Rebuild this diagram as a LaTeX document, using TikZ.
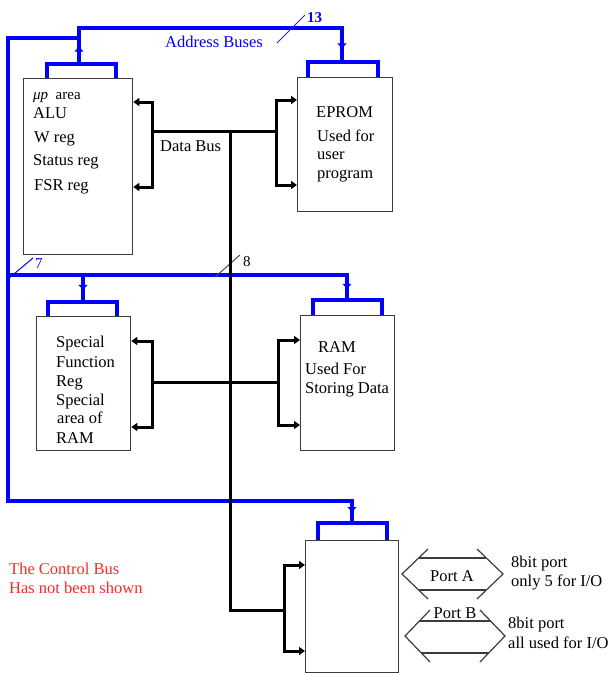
\documentclass[tikz,border=0pt]{standalone}
\usepackage{fontspec}
\setmainfont{Liberation Serif}
\usetikzlibrary{arrows.meta,decorations.markings,calc}
\definecolor{busblue}{RGB}{0,0,255}
\definecolor{redtxt}{RGB}{255,40,40}
\definecolor{boxgray}{RGB}{60,60,60}
\begin{document}
\begin{tikzpicture}[x=1pt,y=-1pt,
  box/.style={draw=boxgray,line width=1.3pt,anchor=north west,inner sep=0pt},
  addr/.style={draw=busblue,line width=3.2pt,line cap=rect,line join=miter},
  dbus/.style={draw=black,line width=3pt,line join=miter,arrows={Triangle[length=6pt,width=8pt]-Triangle[length=6pt,width=8pt]}},
  dwire/.style={draw=black,line width=3pt,line join=miter},
  midarrow/.style={postaction={decorate},decoration={markings,mark=at position #1 with {\arrow[busblue]{Triangle[length=5pt,width=9pt]}}}},
  txt/.style={anchor=base west,inner sep=0pt,font=\fontsize{16.5}{19}\selectfont},
  ctxt/.style={anchor=base,inner sep=0pt,font=\fontsize{16.5}{19}\selectfont},
  port/.style={draw=boxgray,line width=1.2pt},
  tick/.style={line width=1pt}]
\useasboundingbox (0,0) rectangle (608,673);

% boxes
\node[box,minimum width=109pt,minimum height=176pt] (mp) at (23,78) {};
\node[box,minimum width=95pt,minimum height=134pt] (ep) at (297,77) {};
\node[box,minimum width=94pt,minimum height=134pt] (sfr) at (36,316) {};
\node[box,minimum width=94pt,minimum height=135pt] (ram) at (300,315) {};
\node[box,minimum width=93pt,minimum height=132pt] (io) at (305,540) {};

% address bus junctions
\coordinate (a1) at (79,28);
\coordinate (a2) at (342,28);
\coordinate (a3) at (79,38);
\coordinate (a4) at (8,38);
\coordinate (a5) at (8,501);
\coordinate (a6) at (352,501);
\coordinate (a7) at (8,275);
\coordinate (a8) at (347,275);
\coordinate (a9) at (83,275);
\coordinate (b1) at (79,64);
\coordinate (b2) at (342,62);
\coordinate (b3) at (83,302);
\coordinate (b4) at (347,300);
\coordinate (b5) at (352,523);

\draw[addr] (a1) -- (a2);
\draw[addr] (a3) -- (a4) -- (a5) -- (a6);
\draw[addr] (a7) -- (a8);
\draw[addr,midarrow=0.48] (b1) -- (a1);
\draw[addr,midarrow=0.6] (a2) -- (b2);
\draw[addr,midarrow=0.55] (a9) -- (b3);
\draw[addr,midarrow=0.55] (a8) -- (b4);
\draw[addr,midarrow=0.5] (a6) -- (b5);

% brackets on the boxes
\draw[addr,line cap=butt] (mp.north west -| 47,0) |- (b1) -| (mp.north west -| 116,0);
\draw[addr,line cap=butt] (ep.north west -| 308,0) |- (b2) -| (ep.north west -| 378,0);
\draw[addr,line cap=butt] (sfr.north west -| 48,0) |- (b3) -| (sfr.north west -| 117,0);
\draw[addr,line cap=butt] (ram.north west -| 313,0) |- (b4) -| (ram.north west -| 382,0);
\draw[addr,line cap=butt] (io.north west -| 318,0) |- (b5) -| (io.north west -| 387,0);

% slashes and widths
\draw[tick,busblue!70!gray] (277,43) -- (305,15);
\node[anchor=base west,inner sep=0pt,text=busblue,font=\fontsize{15}{18}\selectfont\bfseries] (n13) at (307,22) {13};
\draw[tick,busblue] (8,279) -- (33,258);
\node[anchor=base west,inner sep=0pt,text=busblue,font=\fontsize{15}{18}\selectfont] (n7) at (35,268) {7};
\draw[tick,black!70] (215,277) -- (240,255);
\node[anchor=base west,inner sep=0pt,font=\fontsize{15}{18}\selectfont] (n8) at (243,266) {8};

\node[txt,text=busblue] (ab) at (165,47) {Address Buses};

% data bus
\draw[dwire] (152,131) -- (276,131);
\draw[dwire] (230,131) -- (230,610) -- (284,610);
\draw[dwire] (152,382) -- (278,382);
\draw[dbus] (mp.east |- 0,102) -- (152,102) -- (152,187) -- (mp.east |- 0,187);
\draw[dbus] (ep.west |- 0,100) -- (276,100) -- (276,185) -- (ep.west |- 0,185);
\draw[dbus] (sfr.east |- 0,341) -- (152,341) -- (152,427) -- (sfr.east |- 0,427);
\draw[dbus] (ram.west |- 0,340) -- (278,340) -- (278,425) -- (ram.west |- 0,425);
\draw[dbus] (io.west |- 0,565) -- (284,565) -- (284,651) -- (io.west |- 0,651);
\node[txt] (db) at (160,151) {Data Bus};

% box texts
\node[txt,font=\fontsize{15}{18}\selectfont] (t1) at (33,99) {\textit{μp}\ \ area};
\node[txt] (t2) at (33,118) {ALU};
\node[txt] (t3) at (34,142) {W reg};
\node[txt] (t4) at (33,165) {Status reg};
\node[txt] (t5) at (34,190) {FSR reg};

\node[txt] (e1) at (316,117) {EPROM};
\node[txt] (e2) at (317,141) {Used for};
\node[txt] (e3) at (317,159) {user};
\node[txt] (e4) at (317,178) {program};

\node[txt] (s1) at (56,347) {Special};
\node[txt] (s2) at (56,367) {Function};
\node[txt] (s3) at (56,386) {Reg};
\node[txt] (s4) at (56,405) {Special};
\node[txt] (s5) at (57,423) {area of};
\node[txt] (s6) at (56,443) {RAM};

\node[txt] (r1) at (318,352) {RAM};
\node[txt] (r2) at (305,374) {Used For};
\node[txt] (r3) at (305,393) {Storing Data};

% ports
\draw[port] (428,549) -- (402,574) -- (428,599);
\draw[port] (477,549) -- (503,574) -- (477,599);
\draw[port] (418.6,558) -- (486.4,558);
\draw[port] (418.6,590) -- (486.4,590);
\node[ctxt] (pa) at (452,581) {Port A};

\draw[port] (430,610) -- (405,636) -- (430,662);
\draw[port] (480,610) -- (505,636) -- (480,662);
\draw[port] (419.4,621) -- (490.6,621);
\draw[port] (421.3,653) -- (488.7,653);
\node[ctxt] (pb) at (455,618) {Port B};

\node[txt] (pa1) at (511,567) {8bit port};
\node[txt] (pa2) at (511,586) {only 5 for I/O};
\node[txt] (pb1) at (508,628) {8bit port};
\node[txt] (pb2) at (508,648) {all used for I/O};

\node[txt,text=redtxt] (c1) at (9,574) {The Control Bus};
\node[txt,text=redtxt] (c2) at (9,593) {Has not been shown};
\end{tikzpicture}
\end{document}
